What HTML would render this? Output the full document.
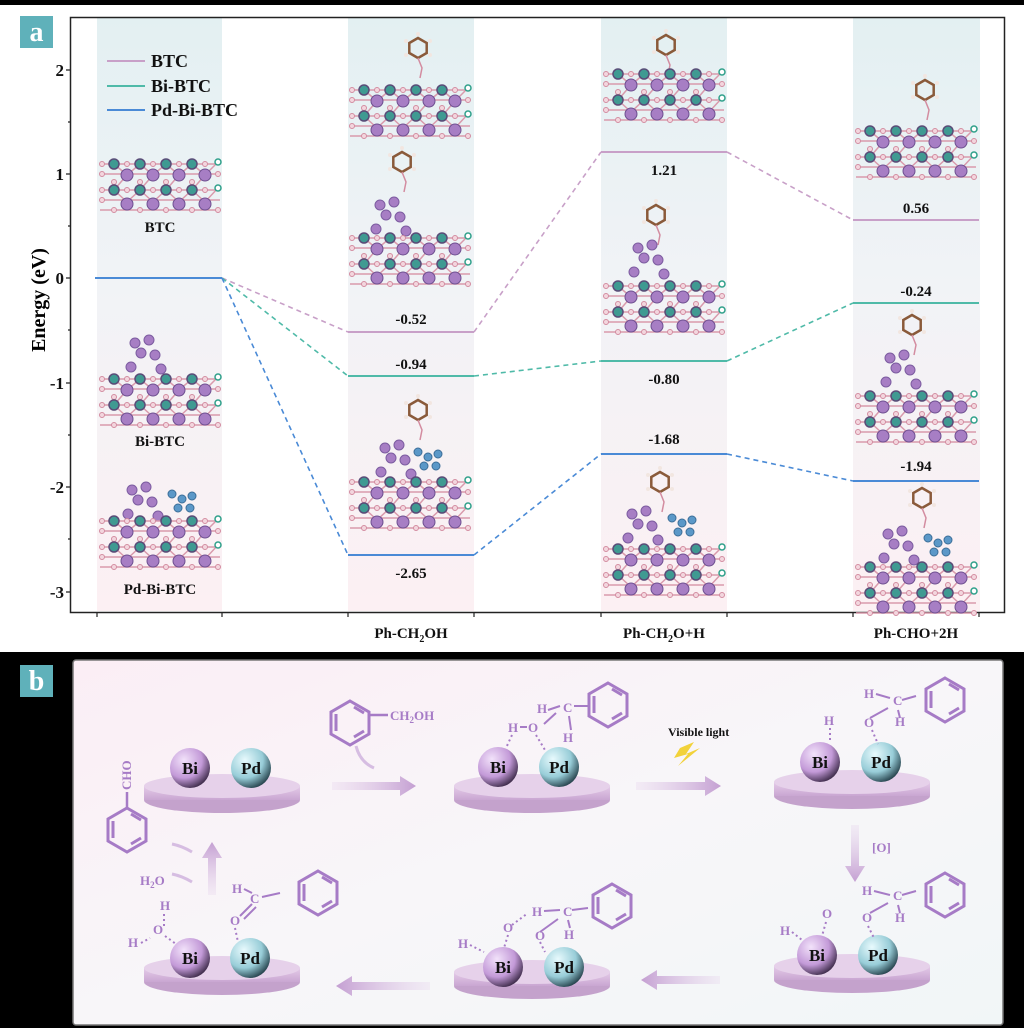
<!DOCTYPE html>
<html><head><meta charset="utf-8"><style>
html,body{margin:0;padding:0;background:#fff;}
svg{display:block;font-family:"Liberation Serif",serif;}
</style></head><body>
<svg width="1024" height="1028" viewBox="0 0 1024 1028" xmlns="http://www.w3.org/2000/svg">
<defs>
<linearGradient id="col" x1="0" y1="0" x2="0" y2="1">
<stop offset="0" stop-color="#e3f0f2"/><stop offset="0.45" stop-color="#f1f3f6"/><stop offset="1" stop-color="#fcf0f3"/></linearGradient>
<linearGradient id="bg" x1="0" y1="0" x2="1" y2="1">
<stop offset="0" stop-color="#fbeef5"/><stop offset="0.5" stop-color="#f8f6f9"/><stop offset="1" stop-color="#f1f6f7"/></linearGradient>
<radialGradient id="bi" cx="0.35" cy="0.3" r="0.75"><stop offset="0" stop-color="#f2e2fa"/><stop offset="0.6" stop-color="#c39ad8"/><stop offset="1" stop-color="#3c2a48"/></radialGradient>
<radialGradient id="pd" cx="0.35" cy="0.3" r="0.75"><stop offset="0" stop-color="#e8fafd"/><stop offset="0.6" stop-color="#98cdd8"/><stop offset="1" stop-color="#24404a"/></radialGradient>
<linearGradient id="plate" x1="0" y1="0" x2="0" y2="1"><stop offset="0" stop-color="#e4cbe8"/><stop offset="1" stop-color="#c9a6d2"/></linearGradient>
<linearGradient id="arrR" x1="0" y1="0" x2="1" y2="0"><stop offset="0" stop-color="#e6d3ec" stop-opacity="0.3"/><stop offset="1" stop-color="#c49fd2"/></linearGradient>
<linearGradient id="arrL" x1="1" y1="0" x2="0" y2="0"><stop offset="0" stop-color="#e6d3ec" stop-opacity="0.3"/><stop offset="1" stop-color="#c49fd2"/></linearGradient>
<linearGradient id="arrD" x1="0" y1="0" x2="0" y2="1"><stop offset="0" stop-color="#e6d3ec" stop-opacity="0.3"/><stop offset="1" stop-color="#c49fd2"/></linearGradient>
<linearGradient id="arrU" x1="0" y1="1" x2="0" y2="0"><stop offset="0" stop-color="#e6d3ec" stop-opacity="0.3"/><stop offset="1" stop-color="#c49fd2"/></linearGradient>
<g id="slab">
<g stroke="#d99aac" stroke-width="1.5" fill="none">
<path d="M0 4H120M0 14H120M0 30H120M0 40H120M0 50H120"/>
<path d="M14 4L27 15L40 4L53 15L66 4L79 15L92 4L105 15L118 2M14 30L27 42L40 30L53 42L66 30L79 42L92 30L105 42L118 28M27 15L14 30M53 15L40 30M79 15L66 30M105 15L92 30"/>
</g>
<g fill="#f3d6de" stroke="#d38ca0" stroke-width="1">
<circle cx="2" cy="4" r="2.5"/><circle cx="2" cy="14" r="2.5"/><circle cx="2" cy="30" r="2.5"/><circle cx="2" cy="40" r="2.5"/>
<circle cx="27" cy="4" r="2.5"/><circle cx="53" cy="4" r="2.5"/><circle cx="79" cy="4" r="2.5"/><circle cx="105" cy="4" r="2.5"/>
<circle cx="40" cy="22" r="2.5"/><circle cx="66" cy="22" r="2.5"/><circle cx="92" cy="22" r="2.5"/><circle cx="14" cy="22" r="2.5"/>
<circle cx="27" cy="30" r="2.5"/><circle cx="53" cy="30" r="2.5"/><circle cx="79" cy="30" r="2.5"/><circle cx="105" cy="30" r="2.5"/>
<circle cx="14" cy="50" r="2.5"/><circle cx="40" cy="50" r="2.5"/><circle cx="66" cy="50" r="2.5"/><circle cx="92" cy="50" r="2.5"/><circle cx="118" cy="50" r="2.5"/><circle cx="118" cy="14" r="2.5"/>
</g>
<g fill="#3f9a92" stroke="#5a4c78" stroke-width="1.5">
<circle cx="14" cy="4" r="5"/><circle cx="40" cy="4" r="5"/><circle cx="66" cy="4" r="5"/><circle cx="92" cy="4" r="5"/>
<circle cx="14" cy="30" r="5"/><circle cx="40" cy="30" r="5"/><circle cx="66" cy="30" r="5"/><circle cx="92" cy="30" r="5"/>
</g>
<g fill="#a77ec4" stroke="#6e4f90" stroke-width="1">
<circle cx="27" cy="15" r="6"/><circle cx="53" cy="15" r="6"/><circle cx="79" cy="15" r="6"/><circle cx="105" cy="15" r="6"/>
<circle cx="27" cy="44" r="6"/><circle cx="53" cy="44" r="6"/><circle cx="79" cy="44" r="6"/><circle cx="105" cy="44" r="6"/>
</g>
<g fill="#fff" stroke="#2fa08a" stroke-width="1.5"><circle cx="118" cy="2" r="3"/><circle cx="118" cy="28" r="3"/></g>
</g>
<g id="benz">
<polygon points="0,-10 8.7,-5 8.7,5 0,10 -8.7,5 -8.7,-5" fill="none" stroke="#8a5a3a" stroke-width="2.5"/>
<g fill="#f2e6e0"><circle cx="0" cy="-14" r="2"/><circle cx="12" cy="-7" r="2"/><circle cx="-12" cy="-7" r="2"/><circle cx="12" cy="7" r="2"/><circle cx="-12" cy="7" r="2"/></g>
<path d="M0 10L4 20L2 30" stroke="#d38ca0" stroke-width="1.5" fill="none"/>
</g>
<g id="bicl" fill="#a77ec4" stroke="#7c5ca0" stroke-width="1">
<circle cx="0" cy="0" r="5"/><circle cx="14" cy="-3" r="5"/><circle cx="6" cy="10" r="5"/><circle cx="20" cy="12" r="5"/><circle cx="-4" cy="24" r="5"/><circle cx="26" cy="26" r="5"/>
</g>
<g id="pdcl" fill="#5b98c8" stroke="#3c6e98" stroke-width="1">
<circle cx="0" cy="0" r="4"/><circle cx="10" cy="5" r="4"/><circle cx="20" cy="2" r="4"/><circle cx="6" cy="14" r="4"/><circle cx="18" cy="14" r="4"/>
</g>
<g id="benzP"><polygon points="0,-22 19,-11 19,11 0,22 -19,11 -19,-11" fill="none" stroke="#a67bc6" stroke-width="3"/><path d="M4,-16 L14,-10 M14,8 L4,14 M-14,-9 L-14,8" stroke="#a67bc6" stroke-width="3"/></g>
</defs>

<!-- top black band -->
<rect x="0" y="0" width="1024" height="5" fill="#000"/>
<!-- columns -->
<rect x="97" y="18" width="125" height="593" fill="url(#col)"/>
<rect x="348" y="18" width="126" height="593" fill="url(#col)"/>
<rect x="601" y="18" width="126" height="593" fill="url(#col)"/>
<rect x="853" y="18" width="127" height="593" fill="url(#col)"/>
<!-- frame -->
<rect x="70.5" y="17.5" width="934" height="595" fill="none" stroke="#222" stroke-width="1.5"/>
<!-- y ticks -->
<g stroke="#222" stroke-width="1.2">
<path d="M66 70H70M66 174H70M66 278H70M66 383H70M66 487H70M66 592H70M68 122H70M68 226H70M68 330H70M68 435H70M68 539H70"/>
<path d="M97 612V617M222 612V617M348 612V617M474 612V617M601 612V617M727 612V617M853 612V617M979 612V617"/>
</g>
<g font-size="17" font-weight="bold" text-anchor="end" fill="#111">
<text x="64" y="76">2</text><text x="64" y="180">1</text><text x="64" y="284">0</text><text x="64" y="389">-1</text><text x="64" y="493">-2</text><text x="64" y="598">-3</text>
</g>
<text transform="translate(45,300) rotate(-90)" text-anchor="middle" font-size="20" font-weight="bold">Energy (eV)</text>
<rect x="20" y="16" width="33" height="32" fill="#5fb1ba"/>
<text x="36.5" y="41" text-anchor="middle" font-size="28" font-weight="bold" fill="#fff">a</text>

<!-- legend -->
<g stroke-width="2">
<line x1="107" y1="61" x2="145" y2="61" stroke="#c8a0c8"/><line x1="107" y1="86" x2="145" y2="86" stroke="#4fbaa8"/><line x1="107" y1="110" x2="145" y2="110" stroke="#4a8ad6"/>
</g>
<g font-size="18" font-weight="bold" fill="#111"><text x="151" y="67">BTC</text><text x="151" y="92">Bi-BTC</text><text x="151" y="116">Pd-Bi-BTC</text></g>

<!-- energy levels -->
<g stroke-width="2">
<line x1="95" y1="278" x2="222" y2="278" stroke="#4a8ad6"/>
<line x1="348" y1="332" x2="474" y2="332" stroke="#c8a0c8"/>
<line x1="348" y1="376" x2="474" y2="376" stroke="#4fbaa8"/>
<line x1="348" y1="555" x2="474" y2="555" stroke="#4a8ad6"/>
<line x1="601" y1="152" x2="727" y2="152" stroke="#c8a0c8"/>
<line x1="601" y1="361" x2="727" y2="361" stroke="#4fbaa8"/>
<line x1="601" y1="454" x2="727" y2="454" stroke="#4a8ad6"/>
<line x1="853" y1="220" x2="979" y2="220" stroke="#c8a0c8"/>
<line x1="853" y1="303" x2="979" y2="303" stroke="#4fbaa8"/>
<line x1="853" y1="481" x2="979" y2="481" stroke="#4a8ad6"/>
</g>
<g stroke-width="1.6" stroke-dasharray="5,4" fill="none">
<path d="M222 278L348 332M474 332L601 152M727 152L853 220" stroke="#c8a0c8"/>
<path d="M222 278L348 376M474 376L601 361M727 361L853 303" stroke="#4fbaa8"/>
<path d="M222 278L348 555M474 555L601 454M727 454L853 481" stroke="#4a8ad6"/>
</g>
<g font-size="15" font-weight="bold" text-anchor="middle" fill="#111">
<text x="411" y="324">-0.52</text><text x="411" y="369">-0.94</text><text x="411" y="578">-2.65</text>
<text x="664" y="175">1.21</text><text x="664" y="384">-0.80</text><text x="664" y="444">-1.68</text>
<text x="916" y="213">0.56</text><text x="916" y="296">-0.24</text><text x="916" y="471">-1.94</text>
<text x="160" y="232">BTC</text><text x="160" y="446">Bi-BTC</text><text x="160" y="594">Pd-Bi-BTC</text>
<text x="411" y="638">Ph-CH<tspan font-size="10" dy="4">2</tspan><tspan dy="-4">OH</tspan></text>
<text x="664" y="638">Ph-CH<tspan font-size="10" dy="4">2</tspan><tspan dy="-4">O+H</tspan></text>
<text x="916" y="638">Ph-CHO+2H</text>
</g>

<!-- structures -->
<use href="#slab" x="100" y="160"/>
<use href="#bicl" x="135" y="343"/><use href="#slab" x="100" y="375"/>
<use href="#bicl" x="132" y="490"/><use href="#pdcl" x="172" y="494"/><use href="#slab" x="100" y="517"/>

<use href="#benz" x="418" y="48"/><use href="#slab" x="350" y="86"/>
<use href="#benz" x="402" y="162"/><use href="#bicl" x="380" y="205"/><use href="#slab" x="350" y="234"/>
<use href="#benz" x="418" y="410"/><use href="#bicl" x="385" y="448"/><use href="#pdcl" x="418" y="452"/><use href="#slab" x="350" y="478"/>

<use href="#benz" x="666" y="45"/><use href="#slab" x="604" y="70"/>
<use href="#benz" x="656" y="215"/><use href="#bicl" x="638" y="248"/><use href="#slab" x="604" y="282"/>
<use href="#benz" x="660" y="482"/><use href="#bicl" x="632" y="514"/><use href="#pdcl" x="672" y="518"/><use href="#slab" x="604" y="545"/>

<use href="#benz" x="925" y="90"/><use href="#slab" x="856" y="127"/>
<use href="#benz" x="912" y="325"/><use href="#bicl" x="890" y="358"/><use href="#slab" x="856" y="392"/>
<use href="#benz" x="922" y="498"/><use href="#bicl" x="888" y="534"/><use href="#pdcl" x="928" y="538"/><use href="#slab" x="856" y="563"/>

<!-- panel b -->
<rect x="0" y="652" width="1024" height="376" fill="#000"/>
<rect x="73" y="660" width="930" height="365" rx="3" fill="url(#bg)" stroke="#777" stroke-width="1.5"/>
<rect x="20" y="665" width="33" height="32" fill="#5fb1ba"/>
<text x="36.5" y="690" text-anchor="middle" font-size="28" font-weight="bold" fill="#fff">b</text>

<!-- plates -->
<g id="pl1">
<ellipse cx="222" cy="800" rx="78" ry="13" fill="#c4a2cc"/><rect x="144" y="786" width="156" height="14" fill="url(#plate)"/><ellipse cx="222" cy="786" rx="78" ry="12" fill="#e6d1ea"/>
</g>
<use href="#pl1" x="310" y="0"/><use href="#pl1" x="630" y="-4"/>
<use href="#pl1" x="0" y="182"/><use href="#pl1" x="310" y="186"/><use href="#pl1" x="630" y="180"/>

<g font-size="17" font-weight="bold" text-anchor="middle" fill="#111">
<circle cx="190" cy="768" r="20" fill="url(#bi)"/><text x="190" y="774">Bi</text>
<circle cx="251" cy="768" r="20" fill="url(#pd)"/><text x="251" y="774">Pd</text>
<circle cx="498" cy="767" r="20" fill="url(#bi)"/><text x="498" y="773">Bi</text>
<circle cx="559" cy="767" r="20" fill="url(#pd)"/><text x="559" y="773">Pd</text>
<circle cx="820" cy="762" r="20" fill="url(#bi)"/><text x="820" y="768">Bi</text>
<circle cx="881" cy="762" r="20" fill="url(#pd)"/><text x="881" y="768">Pd</text>
<circle cx="190" cy="958" r="20" fill="url(#bi)"/><text x="190" y="964">Bi</text>
<circle cx="250" cy="958" r="20" fill="url(#pd)"/><text x="250" y="964">Pd</text>
<circle cx="503" cy="967" r="20" fill="url(#bi)"/><text x="503" y="973">Bi</text>
<circle cx="564" cy="967" r="20" fill="url(#pd)"/><text x="564" y="973">Pd</text>
<circle cx="817" cy="955" r="20" fill="url(#bi)"/><text x="817" y="961">Bi</text>
<circle cx="878" cy="955" r="20" fill="url(#pd)"/><text x="878" y="961">Pd</text>
</g>

<!-- arrows -->
<path d="M332 782H400V776L416 786L400 796V790H332Z" fill="url(#arrR)"/>
<path d="M636 782H705V776L721 786L705 796V790H636Z" fill="url(#arrR)"/>
<path d="M720 976H657V970L641 980L657 990V984H720Z" fill="url(#arrL)"/>
<path d="M430 982H352V976L336 986L352 996V990H430Z" fill="url(#arrL)"/>
<path d="M851 825V866H845L855 882L865 866H859V825Z" fill="url(#arrD)"/>
<path d="M208 895V858H202L212 842L222 858H216V895Z" fill="url(#arrU)"/>
<path d="M356 746Q360 762 374 768" stroke="#d6bde2" stroke-width="3" fill="none"/>
<path d="M192 852Q182 846 172 844M192 882Q182 876 172 874" stroke="#d6bde2" stroke-width="3" fill="none"/>
<polygon points="680,748 694,742 686,754 700,748 678,766 688,754 674,758" fill="#f2d23a"/>

<!-- molecules -->
<g fill="#a67bc6" font-size="13" font-weight="bold">
<use href="#benzP" x="350" y="723"/><path d="M369 715H388" stroke="#a67bc6" stroke-width="2.5"/><text x="390" y="720">CH<tspan font-size="9" dy="3">2</tspan><tspan dy="-3">OH</tspan></text>
<use href="#benzP" x="127" y="830"/><path d="M127 808V792" stroke="#a67bc6" stroke-width="2.5"/><text transform="translate(131,790) rotate(-90)">CHO</text>
<text x="668" y="736" fill="#111" font-size="12">Visible light</text>
<text x="872" y="852" fill="#a67bc6">[O]</text>
<text x="140" y="885">H<tspan font-size="9" dy="3">2</tspan><tspan dy="-3">O</tspan></text>
<!-- state 2 -->
<text x="537" y="713">H</text><text x="508" y="732">H</text><text x="528" y="732">O</text><text x="563" y="742">H</text><text x="563" y="712">C</text>
<path d="M520 727H527M548 710L560 706M544 724L556 713M569 716L571 730M574 706L588 706" stroke="#a67bc6" stroke-width="2"/>
<use href="#benzP" x="608" y="705"/>
<path d="M512 735L506 748M536 735L545 750" stroke="#a67bc6" stroke-width="2" stroke-dasharray="2,3"/>
<!-- state 3 -->
<text x="824" y="725">H</text><text x="864" y="698">H</text><text x="864" y="727">O</text><text x="895" y="726">H</text><text x="893" y="705">C</text>
<path d="M876 694L890 698M870 718L888 708M898 710L900 718M902 700L916 696" stroke="#a67bc6" stroke-width="2"/>
<use href="#benzP" x="945" y="700"/>
<path d="M830 728V742M872 730L878 744" stroke="#a67bc6" stroke-width="2" stroke-dasharray="2,3"/>
<!-- state 6 -->
<text x="780" y="935">H</text><text x="822" y="918">O</text><text x="862" y="895">H</text><text x="862" y="922">O</text><text x="895" y="922">H</text><text x="893" y="900">C</text>
<path d="M874 891L890 895M870 913L888 903M898 905L900 913M902 895L916 891" stroke="#a67bc6" stroke-width="2"/>
<use href="#benzP" x="945" y="895"/>
<path d="M792 932L802 940M826 922L822 936M868 926L874 938" stroke="#a67bc6" stroke-width="2" stroke-dasharray="2,3"/>
<!-- state 5 -->
<text x="458" y="948">H</text><text x="503" y="932">O</text><text x="532" y="916">H</text><text x="535" y="940">O</text><text x="564" y="939">H</text><text x="563" y="916">C</text>
<path d="M544 911L560 910M540 932L558 919M568 920L570 928M572 910L588 908" stroke="#a67bc6" stroke-width="2"/>
<use href="#benzP" x="612" y="906"/>
<path d="M470 945L484 952M508 935L504 948M540 942L545 952M512 925L528 913" stroke="#a67bc6" stroke-width="2" stroke-dasharray="2,3"/>
<!-- state 4 -->
<text x="160" y="910">H</text><text x="128" y="947">H</text><text x="153" y="934">O</text><text x="232" y="893">H</text><text x="230" y="925">O</text><text x="250" y="903">C</text>
<path d="M244 889L252 893M240 916L252 904M244 919L256 907M262 897L280 893" stroke="#a67bc6" stroke-width="2"/>
<use href="#benzP" x="318" y="893"/>
<path d="M164 914V928M141 943L150 938M165 936L176 944M235 928L238 942" stroke="#a67bc6" stroke-width="2" stroke-dasharray="2,3"/>
</g>
</svg>
</body></html>
